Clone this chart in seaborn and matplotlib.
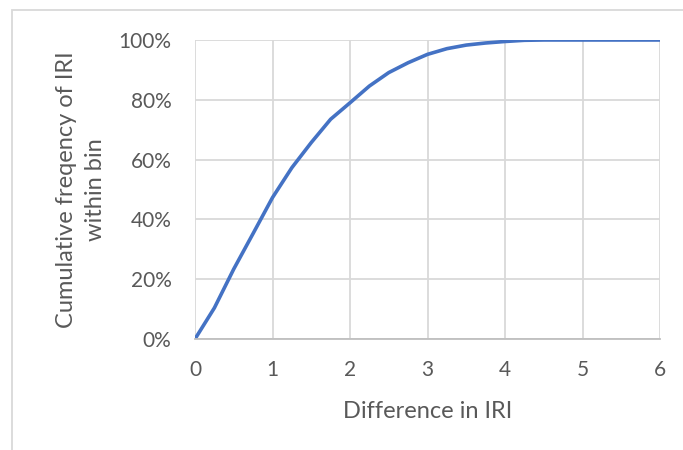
import matplotlib
matplotlib.use("Agg")
import matplotlib.pyplot as plt
import seaborn as sns
import pandas as pd
from matplotlib.ticker import PercentFormatter
from matplotlib.patches import Rectangle

# cumulative frequency, bins of 0.25
iri_diff = [0, 0.25, 0.5, 0.75, 1.0, 1.25, 1.5, 1.75, 2.0, 2.25, 2.5, 2.75,
            3.0, 3.25, 3.5, 3.75, 4.0, 4.25, 4.5, 4.75, 5.0, 5.25, 5.5,
            5.75, 6.0]
cum_freq = [0.0, 0.104, 0.234, 0.353, 0.473, 0.573, 0.657, 0.735, 0.790,
            0.846, 0.891, 0.924, 0.952, 0.971, 0.983, 0.990, 0.995, 0.999,
            1.0, 1.0, 1.0, 1.0, 1.0, 1.0, 1.0]

df = pd.DataFrame({"Difference in IRI": iri_diff, "cum": cum_freq})

sns.set_style("white")
plt.rcParams["font.family"] = ["Lato", "DejaVu Sans"]
text_col = "#595959"
grid_col = "#D9D9D9"

fig = plt.figure(figsize=(6.83, 4.5), dpi=100)
ax = fig.add_axes([195 / 683, 1 - 339 / 450, 465 / 683, 299 / 450])

sns.lineplot(data=df, x="Difference in IRI", y="cum", ax=ax,
             color="#4472C4", linewidth=2.6)

ax.set_xlim(0, 6)
ax.set_ylim(0, 1)
ax.set_xticks(range(0, 7))
ax.set_yticks([0, 0.2, 0.4, 0.6, 0.8, 1.0])
ax.yaxis.set_major_formatter(PercentFormatter(1.0, decimals=0))
ax.grid(True, color=grid_col, linewidth=1.3)
ax.set_axisbelow(True)

for side in ["top", "right", "left"]:
    ax.spines[side].set_visible(False)
ax.spines["bottom"].set_color("#BFBFBF")
ax.spines["bottom"].set_linewidth(1.3)

ax.tick_params(axis="both", length=0, labelsize=15, colors=text_col)
ax.tick_params(axis="x", pad=15)
ax.tick_params(axis="y", pad=17)

ax.set_xlabel("Difference in IRI", fontsize=17, color=text_col, labelpad=15)
ax.set_ylabel("Cumulative freqency of IRI\nwithin bin", fontsize=17,
              color=text_col, labelpad=9, linespacing=1.45)

# chart area border (runs off the right and bottom edge)
fig.patches.append(Rectangle((12 / 683, -0.1), 1.2, 1.1 - 10 / 450,
                             transform=fig.transFigure, fill=False,
                             edgecolor=grid_col, linewidth=1.3))

fig.savefig("out.png", dpi=100)
